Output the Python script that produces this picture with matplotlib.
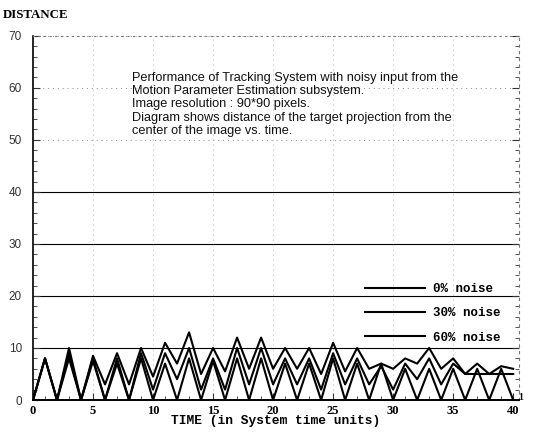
import numpy as np
import matplotlib
matplotlib.use("Agg")
import matplotlib.pyplot as plt
from matplotlib.ticker import MultipleLocator

# --- data (distance vs time, 3 noise levels)
time = list(range(0, 41))
noise_0 = [0, 8, 0, 8, 0, 7.5, 0, 7, 0, 8, 0, 7, 0, 8, 0, 7.5, 0, 8, 0, 8, 0,
           7, 0, 7, 0, 8, 0, 7, 0, 7, 0, 6, 0, 6, 0, 6, 0, 6, 0, 6, 0]
noise_30 = [0, 8, 0, 9, 0, 8, 0, 8, 0, 9, 2, 9, 4, 10, 2, 8, 2, 10, 3, 10, 3,
            8, 3, 8, 2, 9, 3, 8, 3, 6.5, 2, 7, 4, 8, 3, 7, 5, 5, 5, 5, 5]
noise_60 = [0, 8, 0, 10, 0, 8.5, 3, 9, 3, 10, 4.5, 11, 7, 13, 5, 10, 5.5, 12, 6, 12, 6,
            10, 6, 10, 5, 11, 5.5, 10, 6, 7, 6, 8, 7, 10, 6, 8, 5, 7, 5, 6.5, 6]
labels = ["0% noise", "30% noise", "60% noise"]
yticks = [0, 10, 20, 30, 40, 50, 60, 70]
xticks = [0, 5, 10, 15, 20, 25, 30, 35, 40]

note = ("Performance of Tracking System with noisy input from the\n"
        "Motion Parameter Estimation subsystem.\n"
        "Image resolution : 90*90 pixels.\n"
        "Diagram shows distance of the target projection from the\n"
        "center of the image vs. time.")

fig = plt.figure(figsize=(5.5, 4.33), dpi=100)
ax = fig.add_axes([0.06, 0.0762, 0.884, 0.841])

# grid: solid up to 40, faint dotted above
for y in yticks[1:]:
    if y <= 40:
        ax.axhline(y, color="black", lw=0.8, zorder=1)
    else:
        ax.axhline(y, color="#888888", lw=0.7, ls=(0, (1, 4)), zorder=1)
for x in xticks[1:-1]:
    ax.axvline(x, color="#999999", lw=0.6, ls=(0, (1, 5)), zorder=1)

for series, lab in zip([noise_0, noise_30, noise_60], labels):
    ax.plot(time, series, color="black", lw=1.5, label=lab, zorder=3)

ax.set_xlim(0, 40.5)
ax.set_ylim(0, 70)
ax.set_xticks(xticks)
ax.set_yticks(yticks)
ax.xaxis.set_minor_locator(MultipleLocator(1))
ax.yaxis.set_minor_locator(MultipleLocator(2))
ax.tick_params(which="both", direction="in", top=False, right=True, color="#333333")
ax.tick_params(which="major", length=5, width=0.8)
ax.tick_params(which="minor", length=3, width=0.6)
ax.tick_params(axis="y", labelsize=8.5, labelcolor="#333333", pad=8)
for t in ax.get_xticklabels():
    t.set_fontfamily("Liberation Serif")
    t.set_fontweight("bold")
    t.set_fontsize(9)
for t in ax.get_yticklabels():
    t.set_fontfamily("Liberation Sans")

ax.spines["left"].set_linewidth(1.2)
ax.spines["bottom"].set_linewidth(1.4)
ax.spines["top"].set_linestyle((0, (1, 4)))
ax.spines["top"].set_color("#777777")
ax.spines["right"].set_linestyle((0, (2, 4)))
ax.spines["right"].set_color("#777777")

ax.set_xlabel("TIME (in System time units)", fontfamily="Liberation Mono",
              fontweight="bold", fontsize=9.3, labelpad=-1)
fig.text(0.006, 0.965, "DISTANCE", fontfamily="Liberation Serif",
         fontweight="bold", fontsize=9.3, ha="left", va="center")
fig.text(0.943, 0.083, "1", fontfamily="Liberation Serif", fontweight="bold",
         fontsize=7, ha="left", va="center")

ax.text(0.203, 0.9, note, transform=ax.transAxes, fontfamily="Liberation Sans",
        fontsize=9.2, ha="left", va="top", linespacing=1.12, color="#111111")

leg = ax.legend(loc="upper left", bbox_to_anchor=(0.66, 0.352), frameon=False,
                handlelength=4.8, handletextpad=0.6, labelspacing=0.98,
                prop={"family": "Liberation Mono", "weight": "bold", "size": 9})

fig.savefig("out.png", dpi=100)
